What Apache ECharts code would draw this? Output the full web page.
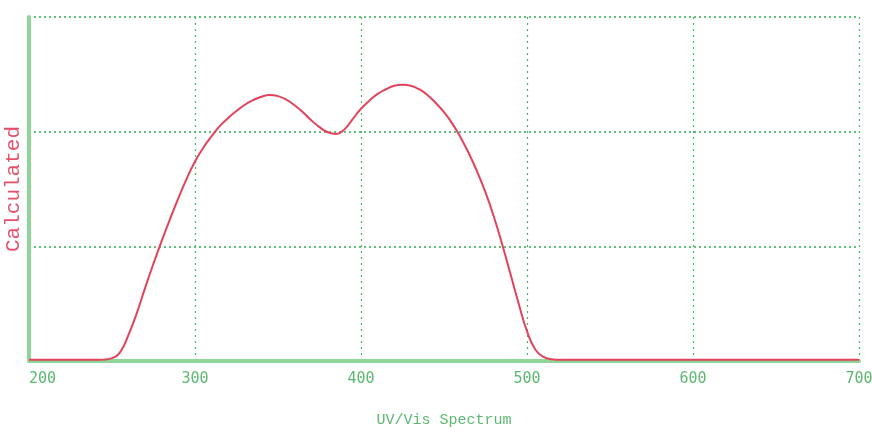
<!DOCTYPE html>
<html>
<head>
<meta charset="utf-8">
<title>UV/Vis Spectrum</title>
<script src="https://cdn.jsdelivr.net/npm/echarts@6/dist/echarts.min.js"></script>
<style>
  html, body { margin: 0; padding: 0; background: #fff; }
  #chart { width: 872px; height: 432px; }
</style>
</head>
<body>
<div id="chart"></div>
<script>
// wavelength (nm) and calculated absorbance
var wavelength = [200, 220, 240, 245, 250, 255, 260, 265, 270, 275, 280, 285, 290, 295, 300, 305, 310, 315, 320, 325,
    330, 335, 340, 345, 350, 355, 360, 365, 370, 375, 380, 385, 390, 395, 400, 405, 410, 415, 420, 425,
    430, 435, 440, 445, 450, 455, 460, 465, 470, 475, 480, 485, 490, 495, 500, 505, 510, 515, 520, 560, 600, 650, 700];
var calculated = [0.01, 0.01, 0.01, 0.012, 0.025, 0.08, 0.23, 0.42, 0.64, 0.85, 1.05, 1.24, 1.42, 1.59, 1.74, 1.86, 1.96, 2.05, 2.12, 2.18,
    2.235, 2.275, 2.305, 2.32, 2.31, 2.28, 2.23, 2.17, 2.10, 2.04, 1.995, 1.98, 2.02, 2.11, 2.20, 2.27, 2.33, 2.37, 2.40, 2.41,
    2.40, 2.37, 2.32, 2.25, 2.17, 2.07, 1.95, 1.81, 1.65, 1.47, 1.26, 1.02, 0.76, 0.50, 0.26, 0.10, 0.035, 0.015, 0.01, 0.01, 0.01, 0.01, 0.01];
var xTicks = [200, 300, 400, 500, 600, 700];

var points = [];
for (var i = 0; i < wavelength.length; i++) {
    points.push([wavelength[i], calculated[i]]);
}

var myChart = echarts.init(document.getElementById('chart'));
var option = {
    animation: false,
    backgroundColor: '#ffffff',
    grid: { left: 29, right: 13, top: 17, bottom: 71, containLabel: false, outerBoundsMode: 'none' },
    xAxis: {
        type: 'value',
        min: xTicks[0],
        max: xTicks[xTicks.length - 1],
        interval: 100,
        offset: 2,
        name: 'UV/Vis Spectrum',
        nameLocation: 'middle',
        nameGap: 50,
        nameTextStyle: { color: '#5cb870', fontFamily: 'Liberation Mono', fontSize: 15 },
        axisLine: { lineStyle: { color: '#8fd597', width: 4 } },
        axisTick: { show: false },
        axisLabel: {
            color: '#5cb870',
            fontFamily: 'DejaVu Sans Mono',
            fontSize: 15,
            margin: 9,
            alignMinLabel: 'left'
        },
        splitLine: { show: true, lineStyle: { color: '#3fb862', type: [2, 4], width: 1.2 } }
    },
    yAxis: {
        type: 'value',
        min: 0,
        max: 3,
        interval: 1,
        name: 'Calculated',
        nameLocation: 'middle',
        nameGap: 5,
        nameTextStyle: { color: '#e4506a', fontFamily: 'Liberation Mono', fontSize: 21 },
        axisLine: { show: true, lineStyle: { color: '#8fd597', width: 4 } },
        axisTick: { show: false },
        axisLabel: { show: false },
        splitLine: { show: true, lineStyle: { color: '#2faa55', type: [2, 3], width: 1.5 } }
    },
    series: [{
        name: 'Calculated',
        type: 'line',
        data: points,
        smooth: 0.5,
        showSymbol: false,
        lineStyle: { color: '#e2435c', width: 2 }
    }]
};
myChart.setOption(option);
</script>
</body>
</html>
